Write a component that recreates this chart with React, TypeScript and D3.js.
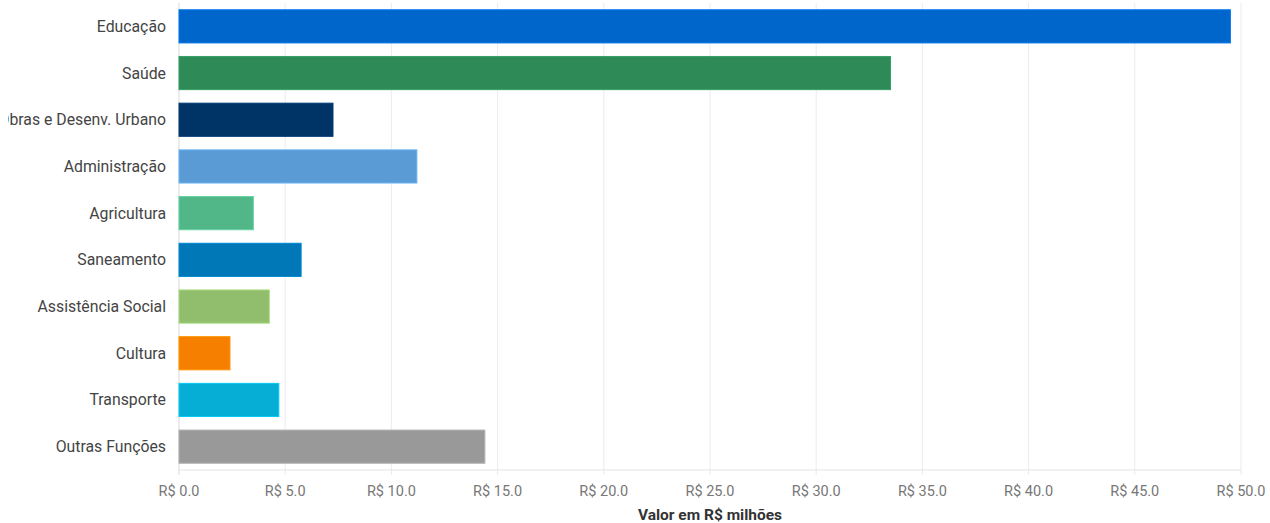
import React, { useRef, useEffect } from 'react'
import * as d3 from 'd3'

const categories = [
    'Educação',
    'Saúde',
    'Obras e Desenv. Urbano',
    'Administração',
    'Agricultura',
    'Saneamento',
    'Assistência Social',
    'Cultura',
    'Transporte',
    'Outras Funções',
]
const values = [49.5, 33.5, 7.25, 11.2, 3.5, 5.75, 4.25, 2.4, 4.7, 14.4]
const colors = [
    '#0066CC',
    '#2E8B57',
    '#003366',
    '#5B9BD5',
    '#52B788',
    '#0077B6',
    '#90BE6D',
    '#F77F00',
    '#06AED5',
    '#999999',
]
const xTicks = [0, 5, 10, 15, 20, 25, 30, 35, 40, 45, 50]

const width = 1262
const height = 523

export default function App() {
    const svgRef = useRef<SVGSVGElement>(null)

    useEffect(() => {
        const svg = d3.select(svgRef.current)
        svg.selectAll('*').remove()

        // page coordinates -> svg (svg placed at left 8px)
        const g = svg.append('g').attr('transform', 'translate(-8,0)')

        const left = 179
        const right = 1241
        const top = 3
        const bottom = 470

        const x = d3.scaleLinear().domain([0, 50]).range([left, right])
        const y = d3.scaleBand<string>().domain(categories).range([top, bottom]).paddingInner(0.29).paddingOuter(0.145)

        // grid
        g.selectAll('.grid')
            .data(xTicks)
            .enter()
            .append('line')
            .attr('x1', (d) => x(d))
            .attr('x2', (d) => x(d))
            .attr('y1', top)
            .attr('y2', bottom + 5)
            .attr('stroke', '#ececec')
            .attr('stroke-width', 1)

        // axis lines
        g.append('line')
            .attr('x1', left)
            .attr('x2', right)
            .attr('y1', bottom)
            .attr('y2', bottom)
            .attr('stroke', '#e3e3e3')
        g.append('line')
            .attr('x1', left)
            .attr('x2', left)
            .attr('y1', top)
            .attr('y2', bottom + 5)
            .attr('stroke', '#e3e3e3')

        // bars
        g.selectAll('.bar')
            .data(values)
            .enter()
            .append('rect')
            .attr('x', x(0))
            .attr('y', (d, i) => y(categories[i])!)
            .attr('width', (d) => x(d) - x(0))
            .attr('height', y.bandwidth())
            .attr('fill', (d, i) => colors[i])
            .attr('stroke', (d, i) => d3.color(colors[i])!.brighter(0.4).formatHex())
            .attr('stroke-width', 1)

        // category labels
        g.selectAll('.cat')
            .data(categories)
            .enter()
            .append('text')
            .attr('x', left - 13)
            .attr('y', (d) => y(d)! + y.bandwidth() / 2)
            .attr('dy', '0.35em')
            .attr('text-anchor', 'end')
            .attr('font-family', 'Roboto, sans-serif')
            .attr('font-size', 15.8)
            .attr('fill', '#444')
            .text((d) => d)

        // tick labels
        g.selectAll('.tick')
            .data(xTicks)
            .enter()
            .append('text')
            .attr('x', (d) => x(d))
            .attr('y', bottom + 21)
            .attr('dy', '0.35em')
            .attr('text-anchor', 'middle')
            .attr('font-family', 'Roboto, sans-serif')
            .attr('font-size', 14.5)
            .attr('fill', '#777')
            .text((d) => `R$ ${d.toFixed(1)}`)

        // axis title
        g.append('text')
            .attr('x', (left + right) / 2)
            .attr('y', 520)
            .attr('text-anchor', 'middle')
            .attr('font-family', 'Roboto, sans-serif')
            .attr('font-size', 15.5)
            .attr('font-weight', 'bold')
            .attr('fill', '#333')
            .text('Valor em R$ milhões')
    }, [])

    return (
        <svg
            ref={svgRef}
            width={width}
            height={height}
            style={{ position: 'absolute', left: 8, top: 0, display: 'block', overflow: 'hidden' }}
        />
    )
}
